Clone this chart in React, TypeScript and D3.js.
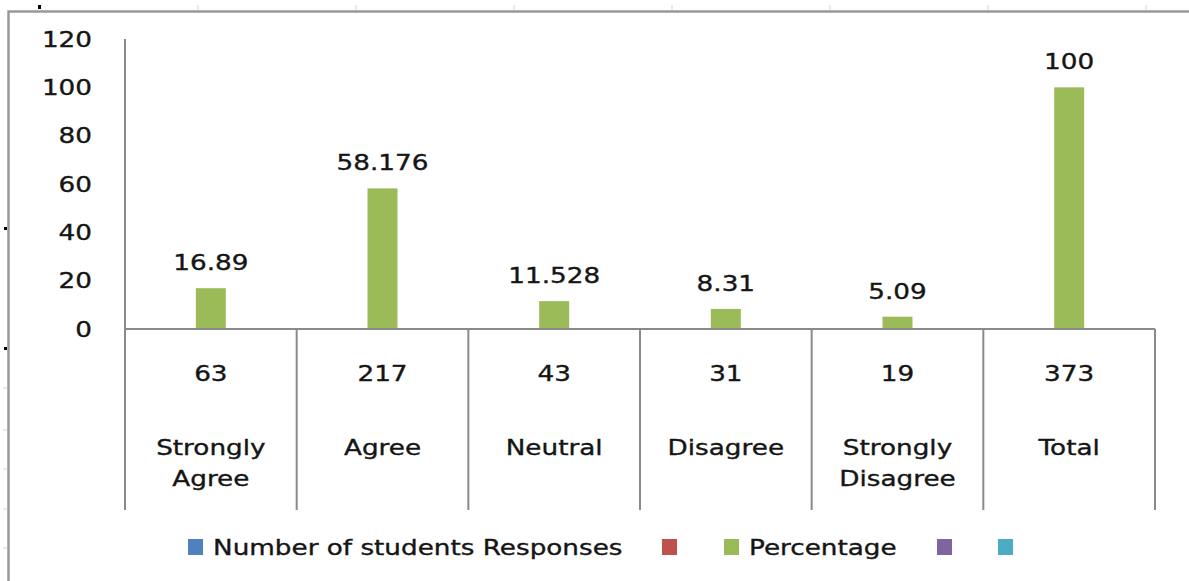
import { useEffect, useRef } from "react";
import * as d3 from "d3";

const categories = ["Strongly Agree", "Agree", "Neutral", "Disagree", "Strongly Disagree", "Total"];
const responses = [63, 217, 43, 31, 19, 373];
const percentage = [16.89, 58.176, 11.528, 8.31, 5.09, 100];
const yTicks = [0, 20, 40, 60, 80, 100, 120];
const legendItems = [
  { label: "Number of students Responses", color: "#4f81bd" },
  { label: "", color: "#c0504d" },
  { label: "Percentage", color: "#9bbb59" },
  { label: "", color: "#8064a2" },
  { label: "", color: "#4bacc6" },
];

export default function App() {
  const svgRef = useRef<SVGSVGElement>(null);

  useEffect(() => {
    const width = 1189;
    const height = 581;
    const font = "'DejaVu Sans', Verdana, sans-serif";
    const axisColor = "#8a8a8a";
    const sx = 1.25; // glyphs in the picture are stretched horizontally

    const svg = d3.select(svgRef.current).attr("width", width).attr("height", height);
    svg.selectAll("*").remove();

    svg.append("rect").attr("width", width).attr("height", height).attr("fill", "#fff");

    // faint sheet gridline stubs around the chart
    const stubs = svg.append("g").attr("stroke", "#c9d3e6").attr("stroke-width", 1);
    [198, 356, 514, 672, 830, 988, 1146].forEach((gx) =>
      stubs.append("line").attr("x1", gx).attr("x2", gx).attr("y1", 5).attr("y2", 10)
    );
    [388, 430, 469, 509, 548].forEach((gy) =>
      stubs.append("line").attr("x1", 3).attr("x2", 7).attr("y1", gy).attr("y2", gy)
    );
    svg.append("rect").attr("x", 38).attr("y", 5).attr("width", 3).attr("height", 4).attr("fill", "#000");
    [228, 348].forEach((gy) =>
      svg.append("rect").attr("x", 4).attr("y", gy - 1).attr("width", 3).attr("height", 3).attr("fill", "#000")
    );

    // chart frame (clipped at right and bottom)
    svg
      .append("path")
      .attr("d", `M8.5,${height + 5} V11.5 H${width + 5}`)
      .attr("fill", "none")
      .attr("stroke", "#999")
      .attr("stroke-width", 2.5);

    const x = d3.scaleBand().domain(categories).range([125, 1155]).padding(0);
    const y = d3.scaleLinear().domain([0, 120]).range([329, 39]);
    const cx = (c: string) => x(c)! + x.bandwidth() / 2;

    const label = (
      parent: any,
      tx: number,
      ty: number,
      text: string,
      anchor = "middle",
      dy = "0"
    ) =>
      parent
        .append("text")
        .attr("transform", `translate(${tx},${ty}) scale(${sx},1)`)
        .attr("text-anchor", anchor)
        .attr("dy", dy)
        .attr("font-family", font)
        .attr("font-size", 21)
        .attr("fill", "#151515")
        .attr("stroke", "#151515")
        .attr("stroke-width", 0.35)
        .text(text);

    // y axis labels
    const yg = svg.append("g");
    yTicks.forEach((t) => label(yg, 92, y(t), String(t), "end", "0.36em"));

    // bars
    const barW = 30;
    svg
      .append("g")
      .selectAll("rect")
      .data(percentage)
      .enter()
      .append("rect")
      .attr("x", (d, i) => cx(categories[i]) - barW / 2)
      .attr("y", (d) => y(d))
      .attr("width", barW)
      .attr("height", (d) => y(0) - y(d))
      .attr("fill", "#9bbb59");

    // bar value labels
    const vg = svg.append("g");
    percentage.forEach((v, i) => label(vg, cx(categories[i]), y(v) - 18, String(v)));

    // axes lines
    const g = svg.append("g").attr("stroke", axisColor).attr("stroke-width", 2);
    g.append("line").attr("x1", 125).attr("x2", 125).attr("y1", y(120)).attr("y2", y(0));
    g.append("line").attr("x1", 125).attr("x2", 1155).attr("y1", y(0)).attr("y2", y(0));
    g.selectAll("line.sep")
      .data([...categories.map((c) => x(c)!), 1155])
      .enter()
      .append("line")
      .attr("class", "sep")
      .attr("x1", (d) => d)
      .attr("x2", (d) => d)
      .attr("y1", y(0))
      .attr("y2", 510);

    // table rows: responses and category names
    const tg = svg.append("g");
    responses.forEach((r, i) => label(tg, cx(categories[i]), 381, String(r)));
    categories.forEach((c) => {
      const lines = c.startsWith("Strongly") ? ["Strongly", c.replace("Strongly ", "")] : [c];
      lines.forEach((ln, j) => label(tg, cx(c), 455 + j * 31, ln));
    });

    // legend
    const legendX = [188, 662, 724, 937, 998];
    const lg = svg.append("g");
    legendItems.forEach((item, i) => {
      lg.append("rect")
        .attr("x", legendX[i])
        .attr("y", 539)
        .attr("width", 15)
        .attr("height", 16)
        .attr("fill", item.color);
      if (item.label) label(lg, legendX[i] + 25, 555, item.label, "start");
    });
  }, []);

  return <svg ref={svgRef} style={{ position: "absolute", left: 0, top: 0, display: "block" }} />;
}
